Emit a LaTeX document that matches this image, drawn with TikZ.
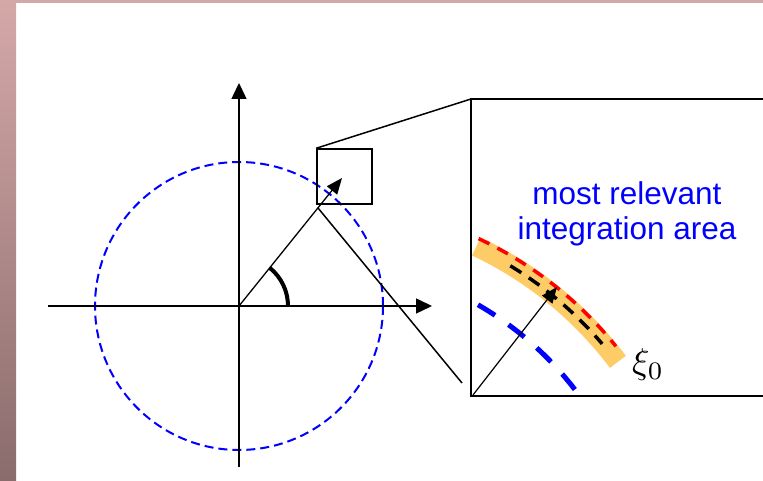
\documentclass[tikz,border=0pt]{standalone}
\usepackage{fontspec}
\newfontfamily\arialfont{Liberation Sans}
\usetikzlibrary{arrows.meta}
\definecolor{framepink}{RGB}{213,168,168}
\definecolor{framebrown}{RGB}{138,108,108}
\definecolor{bandorange}{RGB}{254,204,102}

\begin{document}
\begin{tikzpicture}[
    x=1pt,y=1pt,
    axis/.style={line width=1.5pt, -{Triangle[length=16pt,width=15pt]}},
    vec/.style={line width=1.3pt, -{Triangle[length=16pt,width=13pt]}},
    zoomline/.style={line width=1.5pt},
    ring/.style={blue, line width=2pt, dash pattern=on 9pt off 5pt},
    band/.style={bandorange, line width=20pt},
    outer/.style={red, line width=3.5pt, dash pattern=on 12pt off 9pt},
    middle/.style={black, line width=3.5pt, dash pattern=on 13pt off 9pt},
    inner/.style={blue, line width=5pt, dash pattern=on 20pt off 16.5pt},
    label/.style={font=\arialfont\fontsize{31.5}{35}\selectfont, text=blue, align=center}
  ]
    \useasboundingbox (0,0) rectangle (763,481);
    % slide frame
    \fill[white] (0,0) rectangle (763,481);
    \shade[top color=framepink, bottom color=framebrown] (0,0) rectangle (16,481);
    \fill[framepink] (0,478) rectangle (763,481);

    \coordinate (O) at (239,175);
    \coordinate (C) at (314,-109);
    \coordinate (tip) at (342,303);
    \coordinate (foot) at (318,273);

    \draw[ring] (O) circle[radius=144];
    \draw[axis] (48,175) -- (432,175);
    \draw[axis] (239,14) -- (239,398);
    \draw[vec] (O) -- (tip);
    \draw[line width=4pt] ([shift={(0:49)}]O) arc[start angle=0,end angle=51,radius=49];

    \node[draw, line width=1.5pt, minimum size=55pt, inner sep=0pt] (box) at (344.5,304.5) {};

    % zoomed panel
    \coordinate (pnw) at (471,382);
    \coordinate (psw) at (471,85);
    \coordinate (pend) at (462,98);
    \begin{scope}
      \clip (471,85) rectangle (763,382);
      \draw[band] ([shift={(64.7:380)}]C) arc[start angle=64.7,end angle=36.9,radius=380];
      \draw[outer] ([shift={(68:388)}]C) arc[start angle=68,end angle=38.9,radius=388];
      \draw[middle] ([shift={(58.8:379)}]C) arc[start angle=58.8,end angle=40.5,radius=379];
      \draw[inner] ([shift={(60.1:329)}]C) arc[start angle=60.1,end angle=37.2,radius=329];
      \draw[vec, line width=1.2pt] (473,86) -- (557,194);
    \end{scope}
    \draw[line width=2pt] (770,382) -- (pnw) -- (psw) -- (770,85);
    \draw[zoomline] (box.north west) -- (pnw);
    \draw[zoomline] (foot) -- (pend);

    \node[label] (area) at (627,267) {most relevant\\integration area};
    \node[scale=3.6] (xi) at (648,116) {$\xi_0$};
  \end{tikzpicture}
\end{document}
